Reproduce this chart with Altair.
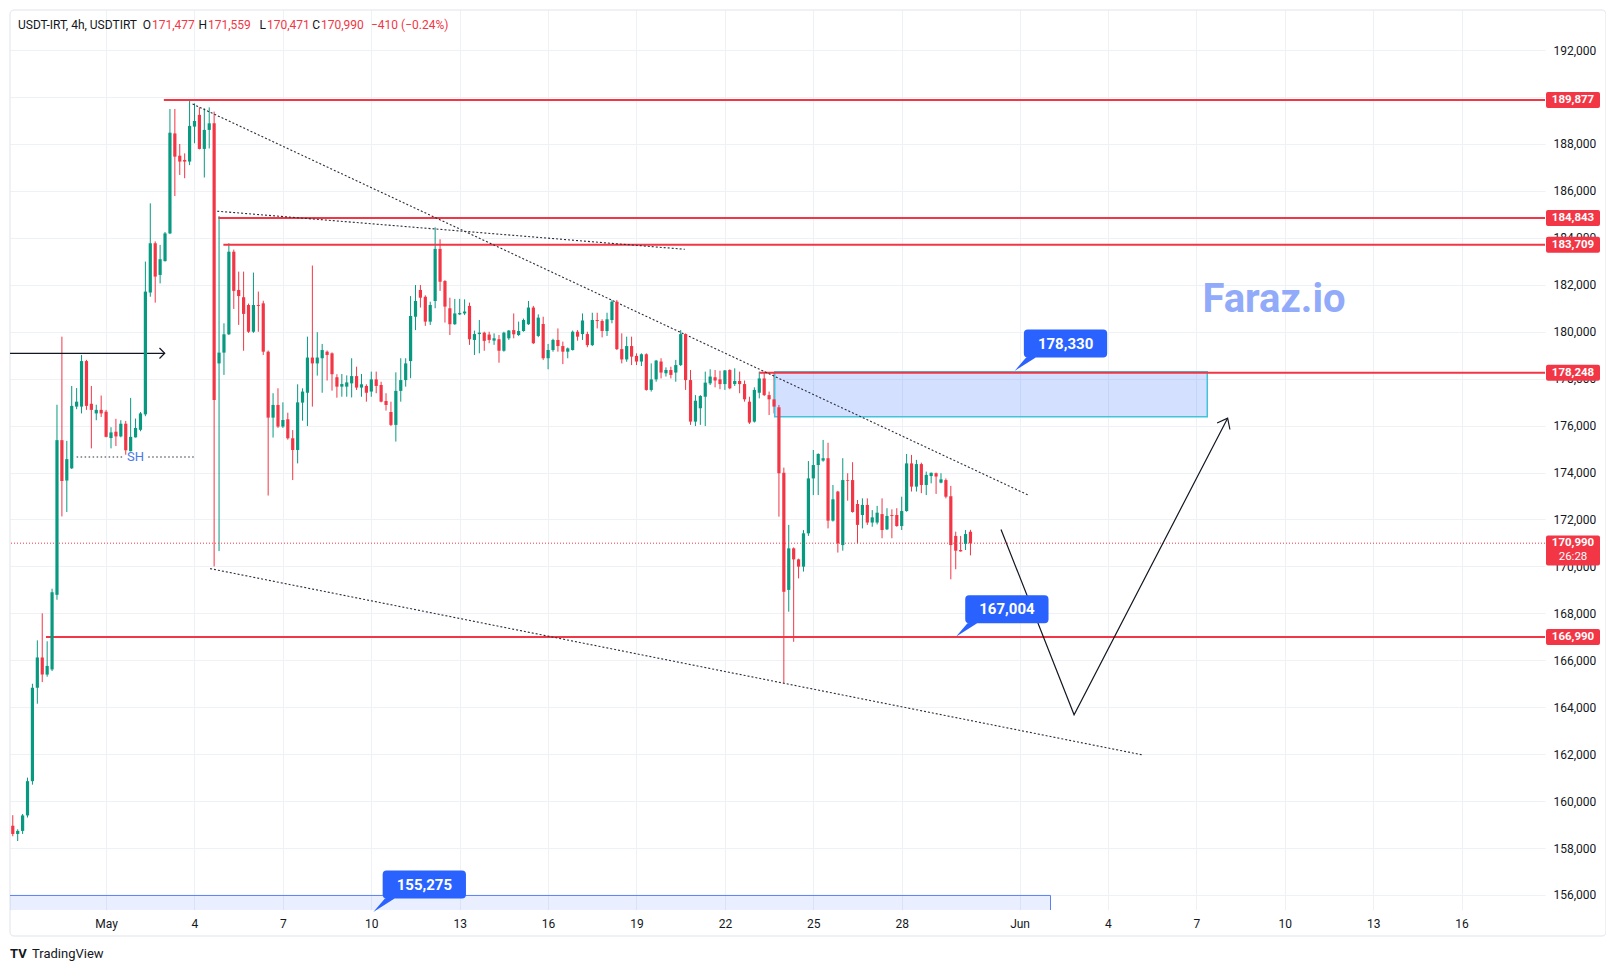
import altair as alt
import numpy as np
import pandas as pd

# ---------------- data ----------------
opens = [158950, 158600, 158730, 159390, 160850, 164830, 166120, 165390, 165610, 168790,
         175380, 173660, 174180, 176810, 176810, 178750, 176930, 176520, 176670, 176590,
         175470, 175740, 175540, 176080, 174910, 175500, 175820, 176480, 181670, 183770,
         182420, 183010, 184190, 188450, 187500, 187320, 187250, 188740, 189240, 187790,
         188600, 188880, 178650, 179110, 179890, 183410, 181780, 181470, 181140, 180000,
         181140, 181210, 179150, 176340, 176880, 175960, 176270, 175460, 174960, 176980,
         177400, 178900, 178650, 178870, 179150, 179080, 178060, 177660, 177660, 177800,
         178110, 177620, 177690, 177450, 177970, 177730, 177050, 176580, 176030, 177480,
         177940, 178750, 180640, 181780, 181490, 180430, 181310, 183530, 182160, 181000,
         180320, 180740, 180780, 181100, 179650, 179900, 179960, 179880, 179620, 179680,
         179190, 179720, 180070, 179860, 180030, 180320, 181030, 179820, 180330, 178870,
         179220, 179650, 179390, 179150, 179220, 180000, 179900, 179900, 179430, 180500,
         180460, 180030, 180500, 181280, 179260, 178820, 179390, 178970, 178730, 179040,
         177520, 177970, 178730, 178230, 178370, 178260, 178580, 179900, 177940, 176170,
         176740, 177230, 177800, 178060, 177970, 177770, 178370, 177770, 177900, 177770,
         177020, 176170, 177400, 178010, 177300, 177120, 176780, 173990, 169000, 170770,
         170300, 169990, 171410, 173750, 174320, 174510, 174610, 171950, 173190, 170910,
         173680, 173680, 172660, 172190, 172620, 171870, 171870, 172230, 171580, 172190,
         172190, 171720, 172360, 174390, 173400, 174360, 173470, 173850, 173970, 173570,
         173680, 172990, 171300, 170700, 170960, 171477]
highs = [159400, 158800, 159450, 161000, 165000, 166850, 168000, 166810, 169050, 176890,
         179790, 175350, 177690, 177600, 179010, 178800, 177690, 176890, 177280, 176670,
         175930, 176290, 176230, 176200, 177180, 176300, 176580, 182990, 185470, 183850,
         183700, 184250, 189490, 189490, 188000, 187600, 189830, 189730, 189560, 189520,
         189560, 189380, 184930, 180360, 183770, 183500, 182560, 182560, 181200, 182520,
         181710, 181320, 179200, 177380, 177590, 176990, 176550, 175810, 177760, 177590,
         179790, 182820, 179980, 179480, 179200, 179120, 178190, 178200, 178140, 178870,
         178510, 178200, 177760, 178300, 178300, 177870, 177380, 177020, 178270, 178870,
         178870, 181520, 181990, 181990, 181550, 181280, 184450, 183940, 182200, 181450,
         181400, 181400, 181380, 181240, 180050, 180500, 180000, 180000, 179930, 179860,
         180000, 180070, 180780, 180430, 180560, 181310, 181100, 180740, 180640, 179480,
         179700, 180140, 179580, 179330, 180050, 180070, 180780, 180000, 180810, 180810,
         180530, 180810, 181350, 181350, 179930, 179790, 179790, 179080, 179080, 179080,
         178650, 178800, 178870, 178480, 178510, 178800, 180070, 179930, 178370, 177300,
         177300, 178300, 178400, 178370, 178340, 178370, 178400, 178440, 178300, 177920,
         177230, 177630, 178300, 178300, 177450, 178260, 176880, 174210, 171770, 170810,
         170330, 171550, 174490, 174960, 174820, 175390, 175270, 173470, 173220, 174610,
         173970, 174440, 172830, 172900, 172900, 172400, 172580, 172900, 172480, 172430,
         172480, 172970, 174790, 174750, 174540, 174420, 174040, 174000, 174000, 173970,
         173750, 173430, 171480, 171300, 171550, 171559]
lows = [158500, 158300, 158600, 159300, 160700, 164150, 165070, 165300, 165540, 168580,
        172130, 172320, 174150, 176700, 176520, 176670, 175030, 176230, 176370, 175500,
        175030, 175130, 175500, 174760, 174900, 175490, 175760, 176400, 181490, 181240,
        182060, 182990, 184160, 185780, 186680, 186540, 187100, 188030, 187770, 186570,
        187810, 170000, 170650, 178160, 179860, 180970, 180290, 179190, 179950, 179950,
        180000, 179010, 173020, 175490, 175900, 175900, 175400, 173680, 174390, 176210,
        175980, 176810, 178130, 177400, 177920, 177490, 177190, 177230, 177230, 177200,
        177520, 177230, 177020, 177230, 177380, 176990, 176640, 175980, 175320, 177020,
        177660, 178020, 180070, 181030, 180250, 180290, 181000, 181740, 180390, 179860,
        180290, 180710, 180710, 179440, 179010, 179080, 179190, 179510, 179440, 178680,
        179150, 179650, 179720, 179820, 180000, 180290, 179480, 179770, 178800, 178400,
        179150, 179150, 178620, 178870, 179200, 179620, 179650, 179340, 179390, 180140,
        179760, 179820, 180360, 179220, 178650, 178720, 178580, 178580, 178540, 177490,
        177450, 177870, 178010, 178090, 178010, 177870, 178540, 177520, 176030, 175980,
        176030, 175980, 177730, 177630, 177550, 177520, 177550, 177690, 177380, 177020,
        176070, 176130, 177160, 177260, 176450, 176520, 172120, 165020, 168070, 166790,
        169490, 169780, 171300, 173040, 173040, 174460, 171620, 171910, 170590, 170670,
        172800, 172290, 170980, 171620, 171770, 171690, 171790, 171200, 171550, 171200,
        171690, 171550, 172330, 173190, 173190, 173120, 173040, 173540, 173090, 173540,
        172900, 169450, 169880, 170630, 170700, 170471]
closes = [158600, 158730, 159390, 160850, 164830, 166120, 165390, 165760, 168900, 175380,
          173640, 174570, 176840, 177020, 178750, 176840, 176670, 176670, 176520, 175520,
          175710, 175540, 176080, 174950, 175520, 175900, 176520, 181710, 183770, 182350,
          183090, 184190, 188480, 187460, 187250, 187250, 188770, 188980, 187790, 188600,
          188880, 177090, 179110, 179890, 183410, 181740, 181520, 180760, 180000, 181140,
          181100, 179150, 176340, 176880, 175960, 176240, 175460, 174960, 176990, 177450,
          178900, 178650, 178900, 179220, 179010, 178190, 177660, 177770, 177840, 178110,
          177620, 177760, 177400, 177970, 177690, 177020, 176880, 176030, 177480, 177940,
          178650, 180670, 181310, 181450, 180430, 181140, 183530, 182130, 181070, 180320,
          180780, 180800, 180860, 179680, 179900, 179960, 179610, 179650, 179720, 179190,
          179960, 180050, 179890, 180030, 180500, 181030, 179510, 180600, 178870, 179220,
          179650, 179390, 179150, 179290, 180000, 179790, 180480, 179430, 180500, 180460,
          180030, 180530, 181280, 179260, 178820, 179390, 178940, 178730, 179040, 177520,
          177970, 178770, 178260, 178370, 178160, 178580, 179900, 177940, 176170, 177060,
          177260, 177830, 178090, 177920, 177770, 178350, 177590, 177900, 177770, 177120,
          176130, 177520, 178010, 177300, 177120, 176810, 173970, 168920, 170770, 170300,
          169990, 171410, 173750, 174320, 174790, 174610, 171950, 172860, 170980, 173680,
          173650, 172320, 171770, 172620, 171870, 172090, 172290, 171550, 172150, 172150,
          171720, 172360, 174390, 173400, 174360, 173470, 173900, 173990, 173830, 173710,
          172970, 170910, 170670, 170640, 171380, 170990]
first_candle = "2025-04-27 20:00"
axis_origin = "2025-05-01 00:00"

tick_days = [0, 3, 6, 9, 12, 15, 18, 21, 24, 27, 31, 34, 37, 40, 43, 46]
tick_labels = ["May", "4", "7", "10", "13", "16", "19", "22", "25", "28", "Jun", "4", "7", "10", "13", "16"]
price_ticks = list(range(156000, 192001, 2000))

ray_prices = [189877, 184843, 183709, 178248, 166990]
ray_start_days = [1.96, 3.81, 3.98, 22.17, -2.04]
last_price = 170990
countdown = "26:28"

trend_ids = ["upper", "upper", "mid", "mid", "lower", "lower"]
trend_days = [2.935, 31.32, 3.77, 19.64, 3.53, 35.19]
trend_prices = [189703, 173026, 185136, 183512, 169907, 161964]

sh_ids = ["a", "a", "b", "b"]
sh_days = [-1.0, 0.58, 1.43, 3.02]
sh_price = 174660
sh_label_day = 1.0

arrow_days = [-3.26, 1.99]
arrow_price = 179082

path_days = [30.37, 32.85, 38.06]
path_prices = [171577, 163677, 176315]

zone_day = [22.69, 37.37]
zone_price = [176381, 178290]
bottom_zone_day = [-3.3, 32.05]
bottom_zone_price = [155275, 155980]

callout_days = [30.83, 28.84, 9.07]
callout_prices = [178330, 167004, 155275]
callout_labels = ["178,330", "167,004", "155,275"]

header_labels = ["O", "H", "L", "C"]
header_values = ["171,477", "171,559", "170,471", "170,990"]
header_symbol = "USDT-IRT, 4h, USDTIRT"
header_change = "\u2212410 (\u22120.24%)"
watermark = "Faraz.io"
brand = "TradingView"

# ---------------- layout / style ----------------
W, H = 1535, 900
X_MIN, X_MAX = -3.261, 48.831
Y_MIN, Y_MAX = 155360, 193709
FONT = "Roboto"
UP, DOWN = "#089981", "#f23645"
RED = "#f23645"
TEXT = "#131722"
GRID = "#eef1f6"

times = pd.date_range(first_candle, periods=len(closes), freq="4h")
days = ((times - pd.Timestamp(axis_origin)) / pd.Timedelta(days=1)).to_numpy()
candles = pd.DataFrame({"day": days, "open": opens, "high": highs, "low": lows, "close": closes})
candles["dir"] = np.where(candles["close"] >= candles["open"], "up", "down")

xs = alt.Scale(domain=[X_MIN, X_MAX], nice=False, zero=False, padding=0)
ys = alt.Scale(domain=[Y_MIN, Y_MAX], nice=False, zero=False, padding=0)
colors = alt.Scale(domain=["up", "down"], range=[UP, DOWN])

label_expr = " : ".join(f"datum.value == {d} ? '{l}'" for d, l in zip(tick_days, tick_labels)) + " : ''"

x_axis = alt.Axis(values=tick_days, labelExpr=label_expr, grid=True, gridColor=GRID,
                  ticks=False, tickSize=0, domain=False, labelPadding=8, labelFontSize=12,
                  labelColor=TEXT, labelFont=FONT, title=None, labelOverlap=False, orient="bottom")
y_axis = alt.Axis(values=price_ticks, format=",", labelExpr="format(datum.value, ',')", grid=True,
                  gridColor=GRID, ticks=False, tickSize=0, domain=False, labelPadding=8,
                  labelFontSize=12, labelColor=TEXT, labelFont=FONT, title=None, orient="right",
                  labelOverlap=False)

one = pd.DataFrame({"k": [0]})


def X(field="day"):
    return alt.X(f"{field}:Q", scale=xs, axis=x_axis)


def Y(field="price"):
    return alt.Y(f"{field}:Q", scale=ys, axis=y_axis)


def rounded_box(x0, x1, y0, y1, r, h):
    f = lambda v: f"{v / h:.4f}"
    return (f"M {f(x0 + r)} {f(y0)} L {f(x1 - r)} {f(y0)} Q {f(x1)} {f(y0)} {f(x1)} {f(y0 + r)} "
            f"L {f(x1)} {f(y1 - r)} Q {f(x1)} {f(y1)} {f(x1 - r)} {f(y1)} "
            f"L {f(x0 + r)} {f(y1)} Q {f(x0)} {f(y1)} {f(x0)} {f(y1 - r)} "
            f"L {f(x0)} {f(y0 + r)} Q {f(x0)} {f(y0)} {f(x0 + r)} {f(y0)} Z")


layers = []

# candles wicks first (carry the axes)
layers.append(alt.Chart(candles).mark_rule(strokeWidth=1).encode(
    x=X(), y=Y("low"), y2="high:Q",
    color=alt.Color("dir:N", scale=colors, legend=None)))

# outer frame
layers.append(alt.Chart(one).mark_rect(fillOpacity=0, stroke="#e0e3eb", strokeWidth=1, cornerRadius=4).encode(
    x=alt.value(0), x2=alt.value(1596), y=alt.value(0), y2=alt.value(926)))

# bottom light zone
bz = pd.DataFrame({"d0": [bottom_zone_day[0]], "d1": [bottom_zone_day[1]],
                   "p0": [bottom_zone_price[0]], "p1": [bottom_zone_price[1]]})
layers.append(alt.Chart(bz).mark_rect(fill="#2962ff", fillOpacity=0.1, stroke="#5b80f5", strokeWidth=1, clip=True).encode(
    x=X("d0"), x2="d1:Q", y=Y("p0"), y2="p1:Q"))

# blue zone
z = pd.DataFrame({"d0": [zone_day[0]], "d1": [zone_day[1]], "p0": [zone_price[0]], "p1": [zone_price[1]]})
layers.append(alt.Chart(z).mark_rect(fill="#2962ff", fillOpacity=0.2, stroke="#3fc4dc", strokeWidth=1.5).encode(
    x=X("d0"), x2="d1:Q", y=Y("p0"), y2="p1:Q"))

# horizontal red rays
rays = pd.DataFrame({"start": ray_start_days, "price": ray_prices})
rays["end"] = X_MAX + 5
layers.append(alt.Chart(rays).mark_rule(color=RED, strokeWidth=2, clip=True).encode(
    x=X("start"), x2="end:Q", y=Y()))

# last price dotted line
lp = pd.DataFrame({"price": [last_price]})
layers.append(alt.Chart(lp).mark_rule(color=RED, strokeWidth=1, strokeDash=[1, 2]).encode(y=Y()))

# dotted trend lines
tr = pd.DataFrame({"id": trend_ids, "day": trend_days, "price": trend_prices})
layers.append(alt.Chart(tr).mark_line(color="#2a2e39", strokeWidth=1.1, strokeDash=[2, 2], clip=True).encode(
    x=X(), y=Y(), detail="id:N"))

# SH level
sh = pd.DataFrame({"id": sh_ids, "day": sh_days, "price": [sh_price] * len(sh_ids)})
layers.append(alt.Chart(sh).mark_line(color="#2a2e39", strokeWidth=1.1, strokeDash=[1.5, 2.5]).encode(
    x=X(), y=Y(), detail="id:N"))
layers.append(alt.Chart(pd.DataFrame({"day": [sh_label_day], "price": [sh_price], "t": ["SH"]})).mark_text(
    color="#4a78ee", fontSize=13, font=FONT, align="center", baseline="middle").encode(x=X(), y=Y(), text="t:N"))

# horizontal arrow
ar = pd.DataFrame({"day": arrow_days, "price": [arrow_price] * 2})
layers.append(alt.Chart(ar).mark_line(color="#131722", strokeWidth=1.2).encode(x=X(), y=Y()))
layers.append(alt.Chart(ar.tail(1)).mark_point(shape="M -1 -1 L 0 0 L -1 1", size=110, filled=False,
                                                 color="#131722", strokeWidth=1.2, opacity=1).encode(x=X(), y=Y()))

# projection path
pp = pd.DataFrame({"day": path_days, "price": path_prices})
layers.append(alt.Chart(pp).mark_line(color="#131722", strokeWidth=1.2).encode(x=X(), y=Y()))
layers.append(alt.Chart(pp.tail(1)).mark_point(shape="M -1 -0.8 L 0 0 L -1 0.8", size=324, filled=False,
                                                 color="#131722", strokeWidth=1.2, angle=297, opacity=1).encode(x=X(), y=Y()))

# candle bodies
layers.append(alt.Chart(candles).mark_bar(size=3.2).encode(
    x=X(), y=Y("open"), y2="close:Q",
    color=alt.Color("dir:N", scale=colors, legend=None)))

# callouts
cal = pd.DataFrame({"day": callout_days, "price": callout_prices, "label": callout_labels})
ch = 93
callout_shape = (f"M 0 0 L {12 / ch:.4f} {-14 / ch:.4f} L {22 / ch:.4f} {-14 / ch:.4f} Z "
                 + rounded_box(9.3, 92.6, -41.4, -13.4, 4, ch))
layers.append(alt.Chart(cal).mark_point(shape=callout_shape, size=(2 * ch) ** 2, filled=True,
                                        fill="#2962ff", strokeWidth=0, opacity=1).encode(x=X(), y=Y()))
layers.append(alt.Chart(cal).mark_text(color="white", fontSize=15, fontWeight="bold", font=FONT,
                                       dx=51, dy=-27.4, align="center", baseline="middle").encode(
    x=X(), y=Y(), text="label:N"))

# price-axis labels
LX = 1563
lab_shape = rounded_box(-27, 27, -8, 8, 2, 27)
lab = pd.DataFrame({"price": ray_prices})
layers.append(alt.Chart(lab).mark_point(shape=lab_shape, size=54 ** 2, filled=True, fill=RED,
                                        strokeWidth=0, opacity=1).encode(x=alt.value(LX), y=Y()))
layers.append(alt.Chart(lab).mark_text(color="white", fontSize=11.5, fontWeight="bold", font=FONT,
                                       align="center", baseline="middle").encode(
    x=alt.value(LX), y=Y(), text=alt.Text("price:Q", format=",")))
lp_shape = rounded_box(-27, 27, -7.6, 22.3, 2, 27)
lpd = pd.DataFrame({"price": [last_price], "cd": [countdown]})
layers.append(alt.Chart(lpd).mark_point(shape=lp_shape, size=54 ** 2, filled=True, fill=RED,
                                        strokeWidth=0, opacity=1).encode(x=alt.value(LX), y=Y()))
layers.append(alt.Chart(lpd).mark_text(color="white", fontSize=11.5, fontWeight="bold", font=FONT,
                                       align="center", baseline="middle").encode(
    x=alt.value(LX), y=Y(), text=alt.Text("price:Q", format=",")))
layers.append(alt.Chart(lpd).mark_text(color="white", fontSize=11.5, font=FONT, dy=14,
                                       align="center", baseline="middle").encode(
    x=alt.value(LX), y=Y(), text="cd:N"))

# header
layers.append(alt.Chart(one).mark_text(align="left", baseline="middle", fontSize=12, font=FONT, color=TEXT).encode(
    x=alt.value(8), y=alt.value(15), text=alt.value(header_symbol)))
value_x = [142, 198, 257, 311]
for lab_t, val_t, px in zip(header_labels, header_values, value_x):
    layers.append(alt.Chart(one).mark_text(align="right", baseline="middle", fontSize=12, font=FONT, color=TEXT).encode(
        x=alt.value(px - 1), y=alt.value(15), text=alt.value(lab_t)))
    layers.append(alt.Chart(one).mark_text(align="left", baseline="middle", fontSize=12, font=FONT, color=RED).encode(
        x=alt.value(px), y=alt.value(15), text=alt.value(val_t)))
layers.append(alt.Chart(one).mark_text(align="left", baseline="middle", fontSize=12, font=FONT, color=RED).encode(
    x=alt.value(361), y=alt.value(15), text=alt.value(header_change)))

# watermark
layers.append(alt.Chart(one).mark_text(align="center", baseline="middle", fontSize=40, fontWeight="bold",
                                       font=FONT, color="#91aaf9").encode(
    x=alt.value(1264), y=alt.value(290), text=alt.value(watermark)))

# brand
layers.append(alt.Chart(one).mark_text(align="left", baseline="middle", fontSize=13, fontWeight="bold",
                                       font=FONT, color=TEXT).encode(
    x=alt.value(0), y=alt.value(944), text=alt.value("TV")))
layers.append(alt.Chart(one).mark_text(align="left", baseline="middle", fontSize=13,
                                       font=FONT, color=TEXT).encode(
    x=alt.value(22), y=alt.value(944), text=alt.value(brand)))

chart = alt.layer(*layers).properties(
    width=W, height=H,
    padding={"left": 2, "top": 2, "right": 61, "bottom": 51},
    autosize=alt.AutoSizeParams(type="none"),
    background="white",
).configure_view(stroke=None)

chart.save("out.html", embed_options={"renderer": "svg", "actions": False})
